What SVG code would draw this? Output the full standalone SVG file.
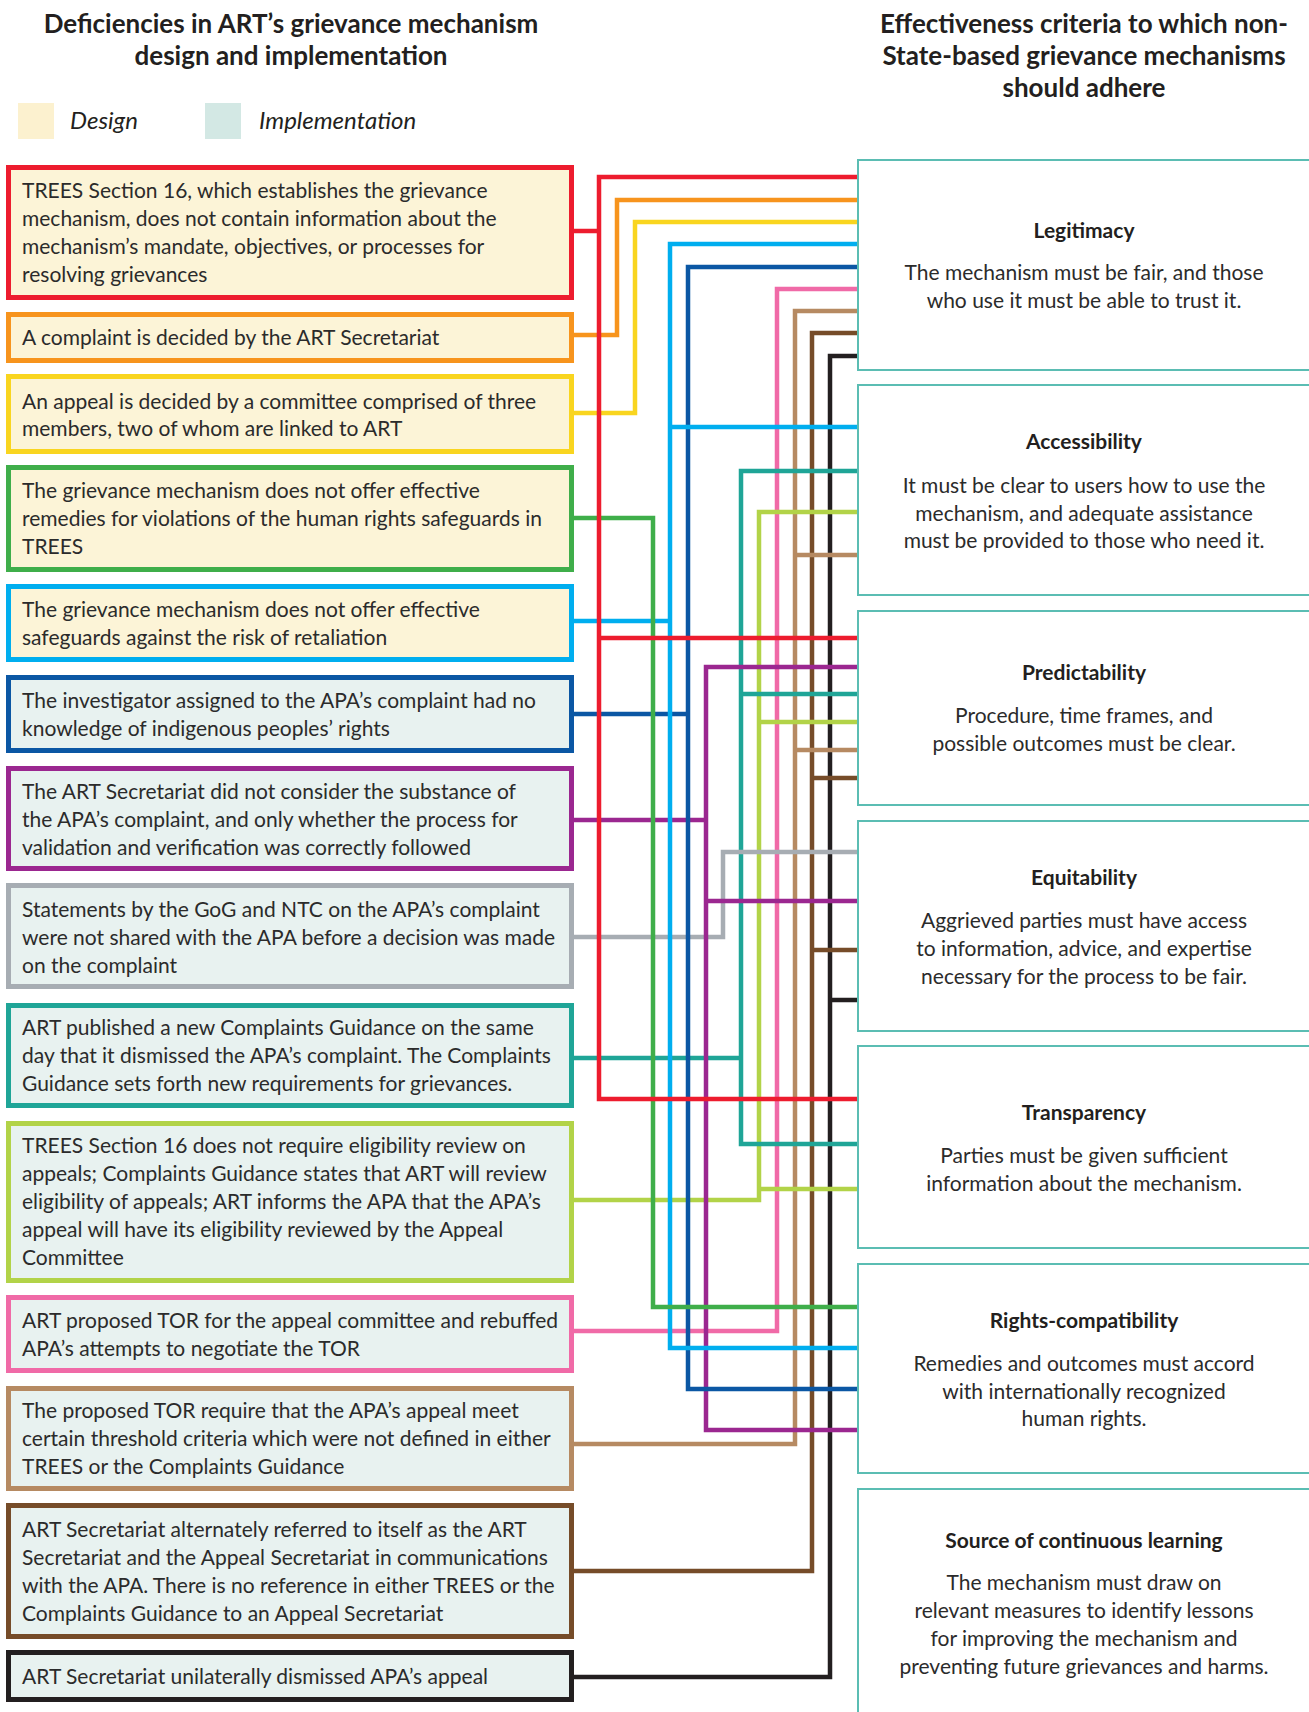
<svg xmlns="http://www.w3.org/2000/svg" width="1309" height="1712" viewBox="0 0 1309 1712">
<style>
.hd{font-family:Lato,"Liberation Sans",sans-serif;font-weight:bold;font-size:26px;fill:#231f20;text-anchor:middle}
.lg{font-family:Lato,"Liberation Sans",sans-serif;font-style:italic;font-size:24px;fill:#231f20}
.bt{font-family:Lato,"Liberation Sans",sans-serif;font-size:21px;fill:#2b2b2b}
.ct{font-family:Lato,"Liberation Sans",sans-serif;font-weight:bold;font-size:21px;fill:#231f20;text-anchor:middle}
.cd{font-family:Lato,"Liberation Sans",sans-serif;font-size:21px;fill:#2b2b2b;text-anchor:middle}
.d{fill:#fcf4d7;stroke-width:5}
.i{fill:#e8f2f0;stroke-width:5}
.r{fill:#ffffff;stroke:#5bbdb3;stroke-width:2}
.c path{fill:none;stroke-width:4.5;stroke-linejoin:miter;stroke-linecap:butt}
</style>
<rect width="1309" height="1712" fill="#ffffff"/>
<g id="headers">
<text class="hd" x="291" y="33">Deficiencies in ART’s grievance mechanism</text>
<text class="hd" x="291" y="65">design and implementation</text>
<text class="hd" x="1084" y="33">Effectiveness criteria to which non-</text>
<text class="hd" x="1084" y="65">State-based grievance mechanisms</text>
<text class="hd" x="1084" y="97">should adhere</text>
</g>
<g id="legend">
<rect x="18" y="103" width="36" height="36" fill="#fcf1cf"/>
<text class="lg" x="70" y="129">Design</text>
<rect x="205" y="103" width="36" height="36" fill="#d3e8e4"/>
<text class="lg" x="259" y="129">Implementation</text>
</g>
<g id="connectors" class="c">
<path stroke="#231f20" d="M574,1677 H830 V356 H857 M830,1000 H857"/>
<path stroke="#764c29" d="M574,1571 H812 V333 H857 M812,778 H857 M812,950 H857"/>
<path stroke="#b68a62" d="M574,1444 H795 V311 H857 M795,555 H857 M795,750 H857"/>
<path stroke="#f06aa7" d="M574,1331 H777 V289 H857"/>
<path stroke="#b2d348" d="M574,1200 H759 V512 H857 M759,722 H857 M759,1189 H857"/>
<path stroke="#1fa597" d="M574,1058 H741 M857,471 H741 V1144 H857 M741,694 H857"/>
<path stroke="#a7adb3" d="M574,937 H723 V852 H857"/>
<path stroke="#9b2790" d="M574,820 H706 M857,667 H706 V1430 H857 M706,901 H857"/>
<path stroke="#0b57a4" d="M574,714 H688 M857,267 H688 V1389 H857"/>
<path stroke="#00aeef" d="M574,621 H670 M857,244 H670 V1348 H857 M670,427 H857"/>
<path stroke="#3fae4a" d="M574,518 H653 V1307 H857"/>
<path stroke="#f9d51f" d="M574,413 H635 V222 H857"/>
<path stroke="#f7941d" d="M574,335 H617 V200 H857"/>
<path stroke="#ed1c2e" d="M574,231 H599 M857,177 H599 V1099 H857 M599,638 H857"/>
</g>
<g id="d1">
<rect class="d" x="8.5" y="167.5" width="563" height="130" stroke="#ed1c2e"/>
<text class="bt" x="22" y="198">TREES Section 16, which establishes the grievance</text>
<text class="bt" x="22" y="226">mechanism, does not contain information about the</text>
<text class="bt" x="22" y="254">mechanism’s mandate, objectives, or processes for</text>
<text class="bt" x="22" y="282">resolving grievances</text>
</g>
<g id="d2">
<rect class="d" x="8.5" y="314.5" width="563" height="46" stroke="#f7941d"/>
<text class="bt" x="22" y="345">A complaint is decided by the ART Secretariat</text>
</g>
<g id="d3">
<rect class="d" x="8.5" y="376.5" width="563" height="75" stroke="#f9d51f"/>
<text class="bt" x="22" y="409">An appeal is decided by a committee comprised of three</text>
<text class="bt" x="22" y="436">members, two of whom are linked to ART</text>
</g>
<g id="d4">
<rect class="d" x="8.5" y="467.5" width="563" height="102" stroke="#3fae4a"/>
<text class="bt" x="22" y="498">The grievance mechanism does not offer effective</text>
<text class="bt" x="22" y="526">remedies for violations of the human rights safeguards in</text>
<text class="bt" x="22" y="554">TREES</text>
</g>
<g id="d5">
<rect class="d" x="8.5" y="586.5" width="563" height="73" stroke="#00aeef"/>
<text class="bt" x="22" y="617">The grievance mechanism does not offer effective</text>
<text class="bt" x="22" y="645">safeguards against the risk of retaliation</text>
</g>
<g id="i1">
<rect class="i" x="8.5" y="677.5" width="563" height="73" stroke="#0b57a4"/>
<text class="bt" x="22" y="708">The investigator assigned to the APA’s complaint had no</text>
<text class="bt" x="22" y="736">knowledge of indigenous peoples’ rights</text>
</g>
<g id="i2">
<rect class="i" x="8.5" y="768.5" width="563" height="100" stroke="#9b2790"/>
<text class="bt" x="22" y="799">The ART Secretariat did not consider the substance of</text>
<text class="bt" x="22" y="827">the APA’s complaint, and only whether the process for</text>
<text class="bt" x="22" y="855">validation and verification was correctly followed</text>
</g>
<g id="i3">
<rect class="i" x="8.5" y="885.5" width="563" height="101" stroke="#a7adb3"/>
<text class="bt" x="22" y="917">Statements by the GoG and NTC on the APA’s complaint</text>
<text class="bt" x="22" y="945">were not shared with the APA before a decision was made</text>
<text class="bt" x="22" y="973">on the complaint</text>
</g>
<g id="i4">
<rect class="i" x="8.5" y="1005.5" width="563" height="100" stroke="#1fa597"/>
<text class="bt" x="22" y="1035">ART published a new Complaints Guidance on the same</text>
<text class="bt" x="22" y="1063">day that it dismissed the APA’s complaint. The Complaints</text>
<text class="bt" x="22" y="1091">Guidance sets forth new requirements for grievances.</text>
</g>
<g id="i5">
<rect class="i" x="8.5" y="1123.5" width="563" height="157" stroke="#b2d348"/>
<text class="bt" x="22" y="1153">TREES Section 16 does not require eligibility review on</text>
<text class="bt" x="22" y="1181">appeals; Complaints Guidance states that ART will review</text>
<text class="bt" x="22" y="1209">eligibility of appeals; ART informs the APA that the APA’s</text>
<text class="bt" x="22" y="1237">appeal will have its eligibility reviewed by the Appeal</text>
<text class="bt" x="22" y="1265">Committee</text>
</g>
<g id="i6">
<rect class="i" x="8.5" y="1297.5" width="563" height="73" stroke="#f06aa7"/>
<text class="bt" x="22" y="1328">ART proposed TOR for the appeal committee and rebuffed</text>
<text class="bt" x="22" y="1356">APA’s attempts to negotiate the TOR</text>
</g>
<g id="i7">
<rect class="i" x="8.5" y="1388.5" width="563" height="100" stroke="#b68a62"/>
<text class="bt" x="22" y="1418">The proposed TOR require that the APA’s appeal meet</text>
<text class="bt" x="22" y="1446">certain threshold criteria which were not defined in either</text>
<text class="bt" x="22" y="1474">TREES or the Complaints Guidance</text>
</g>
<g id="i8">
<rect class="i" x="8.5" y="1505.5" width="563" height="131" stroke="#764c29"/>
<text class="bt" x="22" y="1537">ART Secretariat alternately referred to itself as the ART</text>
<text class="bt" x="22" y="1565">Secretariat and the Appeal Secretariat in communications</text>
<text class="bt" x="22" y="1593">with the APA. There is no reference in either TREES or the</text>
<text class="bt" x="22" y="1621">Complaints Guidance to an Appeal Secretariat</text>
</g>
<g id="i9">
<rect class="i" x="8.5" y="1652.5" width="563" height="47" stroke="#231f20"/>
<text class="bt" x="22" y="1684">ART Secretariat unilaterally dismissed APA’s appeal</text>
</g>
<g id="legitimacy">
<rect class="r" x="858" y="160" width="460" height="210"/>
<text class="ct" x="1084" y="238">Legitimacy</text>
<text class="cd" x="1084" y="280">The mechanism must be fair, and those</text>
<text class="cd" x="1084" y="308">who use it must be able to trust it.</text>
</g>
<g id="accessibility">
<rect class="r" x="858" y="385" width="460" height="210"/>
<text class="ct" x="1084" y="449">Accessibility</text>
<text class="cd" x="1084" y="493">It must be clear to users how to use the</text>
<text class="cd" x="1084" y="521">mechanism, and adequate assistance</text>
<text class="cd" x="1084" y="548">must be provided to those who need it.</text>
</g>
<g id="predictability">
<rect class="r" x="858" y="611" width="460" height="194"/>
<text class="ct" x="1084" y="680">Predictability</text>
<text class="cd" x="1084" y="723">Procedure, time frames, and</text>
<text class="cd" x="1084" y="751">possible outcomes must be clear.</text>
</g>
<g id="equitability">
<rect class="r" x="858" y="821" width="460" height="210"/>
<text class="ct" x="1084" y="885">Equitability</text>
<text class="cd" x="1084" y="928">Aggrieved parties must have access</text>
<text class="cd" x="1084" y="956">to information, advice, and expertise</text>
<text class="cd" x="1084" y="984">necessary for the process to be fair.</text>
</g>
<g id="transparency">
<rect class="r" x="858" y="1046" width="460" height="202"/>
<text class="ct" x="1084" y="1120">Transparency</text>
<text class="cd" x="1084" y="1163">Parties must be given sufficient</text>
<text class="cd" x="1084" y="1191">information about the mechanism.</text>
</g>
<g id="rights">
<rect class="r" x="858" y="1264" width="460" height="209"/>
<text class="ct" x="1084" y="1328">Rights-compatibility</text>
<text class="cd" x="1084" y="1371">Remedies and outcomes must accord</text>
<text class="cd" x="1084" y="1399">with internationally recognized</text>
<text class="cd" x="1084" y="1426">human rights.</text>
</g>
<g id="learning">
<rect class="r" x="858" y="1489" width="460" height="240"/>
<text class="ct" x="1084" y="1548">Source of continuous learning</text>
<text class="cd" x="1084" y="1590">The mechanism must draw on</text>
<text class="cd" x="1084" y="1618">relevant measures to identify lessons</text>
<text class="cd" x="1084" y="1646">for improving the mechanism and</text>
<text class="cd" x="1084" y="1674">preventing future grievances and harms.</text>
</g>
</svg>
